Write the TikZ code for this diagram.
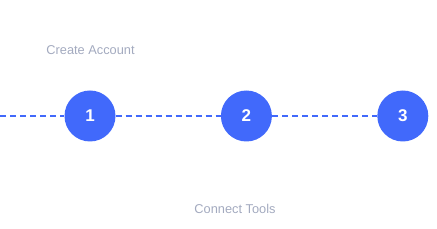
\documentclass[tikz,border=0pt]{standalone}
\usepackage{fontspec}
\setmainfont{Liberation Sans}
\usetikzlibrary{positioning}
\definecolor{stepblue}{HTML}{4169FB}
\definecolor{labelgray}{HTML}{A3AABF}

\begin{document}
\begin{tikzpicture}[x=1pt, y=-1pt, node distance=105pt,
    stepnode/.style={circle, fill=stepblue, minimum size=51pt, inner sep=0pt,
      text=white, font=\fontsize{17}{19}\selectfont\bfseries},
    steplabel/.style={text=labelgray, font=\fontsize{12.8}{14}\selectfont},
    link/.style={stepblue, line width=1.3pt, dash pattern=on 6pt off 4pt}]
      \useasboundingbox (0,0) rectangle (437,229);
      \node[stepnode] (s1) at (90,116) {1};
      \node[stepnode] (s2) [right=of s1] {2};
      \node[stepnode] (s3) [right=of s2] {3};
      \coordinate (start) at (0,116);

      \node[steplabel] (l1) at (90.5,50) {Create Account};
      \node[steplabel] (l2) at (235,209) {Connect Tools};

      \draw[link] (start) -- (s1) -- (s2) -- (s3);
    \end{tikzpicture}
\end{document}
